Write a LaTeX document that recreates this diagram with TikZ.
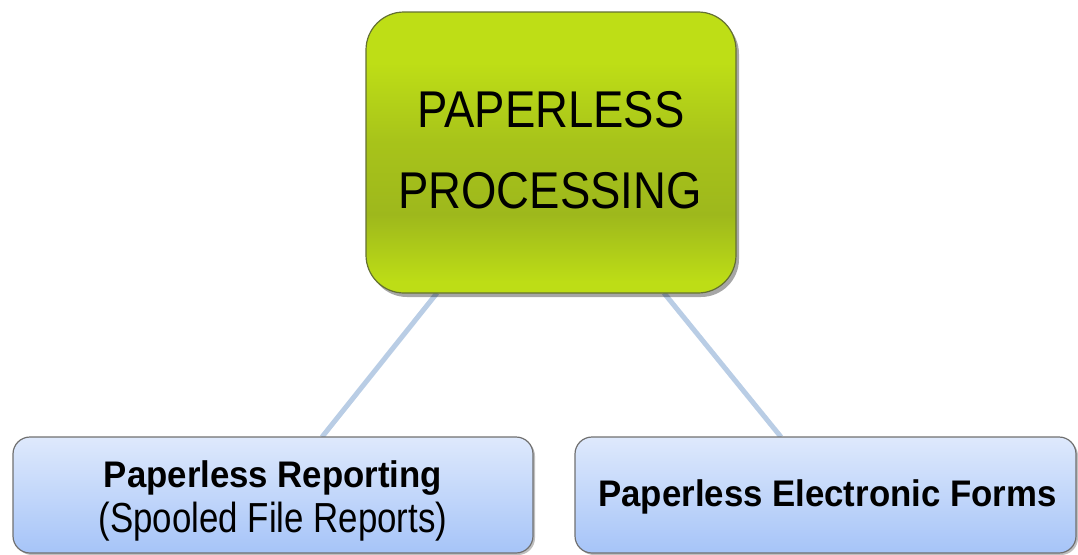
\documentclass[tikz,border=0pt]{standalone}
\usepackage{fontspec}
\setmainfont{Liberation Sans}
\newfontfamily\fTop[FakeStretch=0.88]{Liberation Sans}
\newfontfamily\fBold[FakeStretch=0.94]{Liberation Sans Bold}
\newfontfamily\fReg[FakeStretch=0.83]{Liberation Sans}
\usetikzlibrary{calc,shadows}
\definecolor{gTop}{RGB}{190,222,22}
\definecolor{gMid}{RGB}{158,184,28}
\definecolor{gBot}{RGB}{189,221,22}
\definecolor{gLine}{RGB}{100,112,50}
\definecolor{bTop}{RGB}{222,233,252}
\definecolor{bBot}{RGB}{166,196,248}
\definecolor{bLine}{RGB}{112,112,112}
\definecolor{conn}{RGB}{185,205,229}
\pgfdeclareverticalshading{greenshade}{100bp}{color(0bp)=(gBot); color(27bp)=(gBot); color(39bp)=(gMid); color(52bp)=(gMid!70!gTop); color(66bp)=(gTop); color(100bp)=(gTop)}
\tikzset{
  mainbox/.style={draw=gLine, line width=1.2pt, rounded corners=38pt,
    shading=greenshade,
    minimum width=370pt, minimum height=281pt, inner sep=0pt,
    drop shadow={shadow xshift=3pt, shadow yshift=-4pt, opacity=0.35, fill=black}},
  subbox/.style={draw=bLine, line width=1.2pt, rounded corners=17pt,
    top color=bTop, bottom color=bBot,
    minimum height=116pt, inner sep=0pt,
    drop shadow={shadow xshift=2pt, shadow yshift=-2pt, opacity=0.25, fill=black}},
  lbl/.style={anchor=base, inner sep=0pt, text=black},
  connector/.style={draw=conn, line width=5pt}
}
\begin{document}
\begin{tikzpicture}[x=1pt,y=-1pt]
\useasboundingbox (0,0) rectangle (1078,554);
% connector end points
\coordinate (t1) at (437,293);
\coordinate (t2) at (664,293);
\coordinate (b1) at (322,437);
\coordinate (b2) at (781,437);
\draw[connector] (t1) -- (b1);
\draw[connector] (t2) -- (b2);
% boxes
\node[mainbox] (top) at (551,152.5) {};
\node[subbox, minimum width=520pt] (left) at (273,495) {};
\node[subbox, minimum width=501pt] (right) at (825.5,495) {};
% labels
\node[lbl, font=\fTop\fontsize{51.7}{60}\selectfont] (t1lbl) at (551,127) {PAPERLESS};
\node[lbl, font=\fTop\fontsize{51.7}{60}\selectfont] (t2lbl) at (550,208) {PROCESSING};
\node[lbl, font=\fBold\fontsize{37}{44}\selectfont] (l1lbl) at (273,487) {Paperless Reporting};
\node[lbl, font=\fReg\fontsize{42}{48}\selectfont] (l2lbl) at (273,532) {(Spooled File Reports)};
\node[lbl, font=\fBold\fontsize{37}{44}\selectfont] (r1lbl) at (827.5,506) {Paperless Electronic Forms};
\end{tikzpicture}
\end{document}
